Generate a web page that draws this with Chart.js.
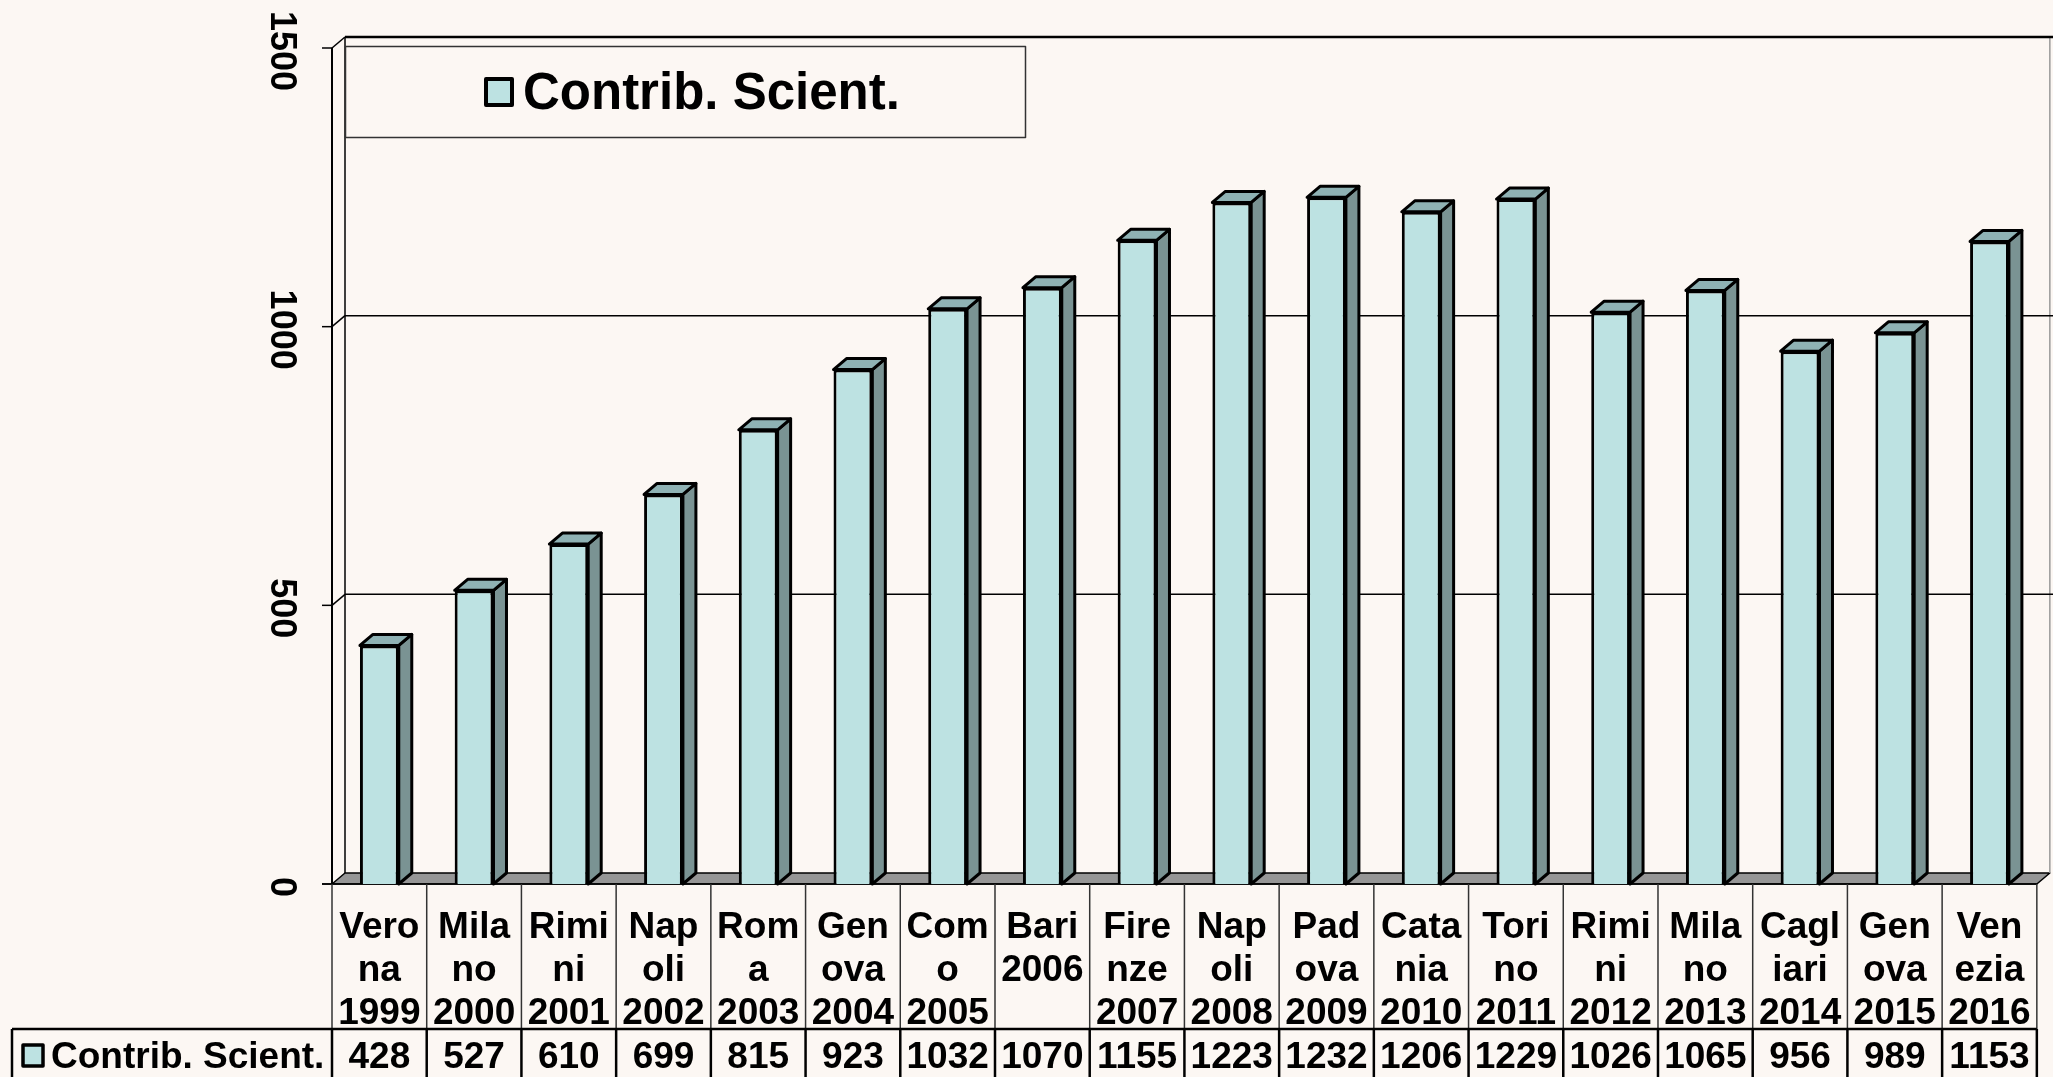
<!DOCTYPE html>
<html><head><meta charset="utf-8">
<style>html,body{margin:0;padding:0;background:#FCF7F3;overflow:hidden}canvas{display:block}</style>
<script src="https://cdn.jsdelivr.net/npm/chart.js@4.4.1/dist/chart.umd.min.js"></script>
</head><body>
<canvas id="c" width="2053" height="1077"></canvas>
<script>
const seriesName = 'Contrib. Scient.';
const categoryLabels = [
  ['Vero','na','1999'], ['Mila','no','2000'], ['Rimi','ni','2001'], ['Nap','oli','2002'],
  ['Rom','a','2003'], ['Gen','ova','2004'], ['Com','o','2005'], ['Bari','2006'],
  ['Fire','nze','2007'], ['Nap','oli','2008'], ['Pad','ova','2009'], ['Cata','nia','2010'],
  ['Tori','no','2011'], ['Rimi','ni','2012'], ['Mila','no','2013'], ['Cagl','iari','2014'],
  ['Gen','ova','2015'], ['Ven','ezia','2016']
];
const values = [428, 527, 610, 699, 815, 923, 1032, 1070, 1155, 1223, 1232, 1206, 1229, 1026, 1065, 956, 989, 1153];
const yTickValues = [0, 500, 1000, 1500];

const FONT = "'Liberation Sans', Arial, sans-serif";
const BG = '#FCF7F3';
const FRONT = '#BDE2E2';
const SIDE = '#7A9393';
const TOPC = '#8FB2B4';
const FLOOR = '#969696';
const DX = 13, DY = -11;

function poly(ctx, pts, fill, stroke, lw) {
  ctx.beginPath();
  ctx.moveTo(pts[0][0], pts[0][1]);
  for (let i = 1; i < pts.length; i++) ctx.lineTo(pts[i][0], pts[i][1]);
  ctx.closePath();
  if (fill) { ctx.fillStyle = fill; ctx.fill(); }
  if (stroke) { ctx.strokeStyle = stroke; ctx.lineWidth = lw; ctx.stroke(); }
}
function line(ctx, x1, y1, x2, y2, color, lw) {
  ctx.beginPath(); ctx.moveTo(x1, y1); ctx.lineTo(x2, y2);
  ctx.strokeStyle = color; ctx.lineWidth = lw; ctx.stroke();
}

const excel3d = {
  id: 'excel3d',
  beforeDraw(chart) {
    const ctx = chart.ctx;
    ctx.save(); ctx.fillStyle = BG; ctx.fillRect(0, 0, chart.width, chart.height); ctx.restore();
  },
  beforeDatasetsDraw(chart) {
    const {ctx, chartArea: a, scales: {y}} = chart;
    ctx.save();
    ctx.lineJoin = 'round';
    const yTop = y.getPixelForValue(yTickValues[yTickValues.length - 1]);
    poly(ctx, [[a.left, a.bottom], [a.left + DX, a.bottom + DY], [a.right + DX, a.bottom + DY], [a.right, a.bottom]], FLOOR, '#000', 1.5);
    line(ctx, a.right + DX, yTop + DY, a.right + DX, a.bottom + DY, '#999', 1.5);
    yTickValues.forEach(v => {
      const py = y.getPixelForValue(v);
      line(ctx, a.left - 10, py, a.left, py, '#000', 1.5);
      if (v > 0) {
        line(ctx, a.left, py, a.left + DX, py + DY, '#000', 1.5);
        line(ctx, a.left + DX, py + DY, a.right + DX + 20, py + DY, '#000', v === 1500 ? 2.5 : 1.5);
      }
    });
    line(ctx, a.left, yTop, a.left, a.bottom, '#000', 2);
    line(ctx, a.left + DX, yTop + DY, a.left + DX, a.bottom + DY, '#000', 1.5);
    line(ctx, a.left - 10, a.bottom, a.right, a.bottom, '#000', 1.5);
    const meta = chart.getDatasetMeta(0);
    meta.data.forEach(bar => {
      const p = bar.getProps(['x', 'y', 'base', 'width'], true);
      const l = p.x - p.width / 2, r = p.x + p.width / 2;
      poly(ctx, [[r, p.y], [r + DX, p.y + DY], [r + DX, p.base + DY], [r, p.base]], SIDE, '#000', 3);
      poly(ctx, [[l, p.y], [l + DX, p.y + DY], [r + DX, p.y + DY], [r, p.y]], TOPC, '#000', 3);
    });
    ctx.restore();
  },
  afterDraw(chart) {
    const {ctx, chartArea: a, scales: {x, y}} = chart;
    ctx.save();
    ctx.lineJoin = 'round';
    ctx.fillStyle = '#000';
    ctx.font = 'bold 36px ' + FONT;
    ctx.textAlign = 'center'; ctx.textBaseline = 'middle';
    yTickValues.forEach(v => {
      const py = y.getPixelForValue(v);
      ctx.save(); ctx.translate(281, py + 3); ctx.rotate(Math.PI / 2);
      ctx.fillText(String(v), 0, 0); ctx.restore();
    });
    const n = categoryLabels.length;
    const cw = (x.right - x.left) / n;
    const rowTop = 1029, rowMid = 1058, bottom = chart.height + 5;
    for (let i = 0; i <= n; i++) {
      const bx = x.left + i * cw;
      line(ctx, bx, a.bottom, bx, rowTop, '#333', 1.5);
      line(ctx, bx, rowTop, bx, bottom, '#000', 2.5);
    }
    line(ctx, 12, rowTop, x.right, rowTop, '#000', 2.5);
    line(ctx, 12, rowTop, 12, bottom, '#000', 2.5);
    ctx.fillStyle = '#000';
    ctx.font = 'bold 37px ' + FONT;
    ctx.textAlign = 'center'; ctx.textBaseline = 'middle';
    values.forEach((v, i) => ctx.fillText(String(v), x.getPixelForValue(i), rowMid));
    poly(ctx, [[23, 1045], [43, 1045], [43, 1066], [23, 1066]], FRONT, '#000', 3.5);
    ctx.fillStyle = '#000'; ctx.textAlign = 'left';
    ctx.fillText(seriesName, 51, rowMid);
    ctx.beginPath(); ctx.rect(345.5, 46.5, 680, 91);
    ctx.fillStyle = BG; ctx.fill();
    ctx.strokeStyle = '#333'; ctx.lineWidth = 1.5; ctx.stroke();
    poly(ctx, [[486, 79], [512, 79], [512, 105], [486, 105]], FRONT, '#000', 4);
    ctx.fillStyle = '#000'; ctx.font = 'bold 51px ' + FONT;
    ctx.textAlign = 'left'; ctx.textBaseline = 'middle';
    ctx.fillText(seriesName, 523, 95);
    ctx.restore();
  }
};

new Chart(document.getElementById('c'), {
  type: 'bar',
  data: {
    labels: categoryLabels,
    datasets: [{
      label: seriesName,
      data: values,
      backgroundColor: FRONT,
      borderColor: '#000',
      borderWidth: 3,
      barPercentage: 0.41,
      categoryPercentage: 1.0
    }]
  },
  options: {
    responsive: false,
    devicePixelRatio: 1,
    animation: false,
    events: [],
    layout: { padding: { top: 48, right: 13, left: 0, bottom: 0 } },
    plugins: { legend: { display: false }, tooltip: { enabled: false } },
    scales: {
      x: {
        grid: { display: false, drawTicks: false },
        border: { display: false },
        ticks: {
          autoSkip: false, maxRotation: 0, minRotation: 0, padding: 22, color: '#000',
          font: { family: FONT, size: 37, weight: 'bold', lineHeight: 1.17 }
        },
        afterFit(s) { s.height = 193; }
      },
      y: {
        min: 0, max: 1500,
        grid: { display: false, drawTicks: false },
        border: { display: false },
        ticks: { display: false, stepSize: 500 },
        afterFit(s) { s.width = 332; }
      }
    }
  },
  plugins: [excel3d]
});
</script>
</body></html>
